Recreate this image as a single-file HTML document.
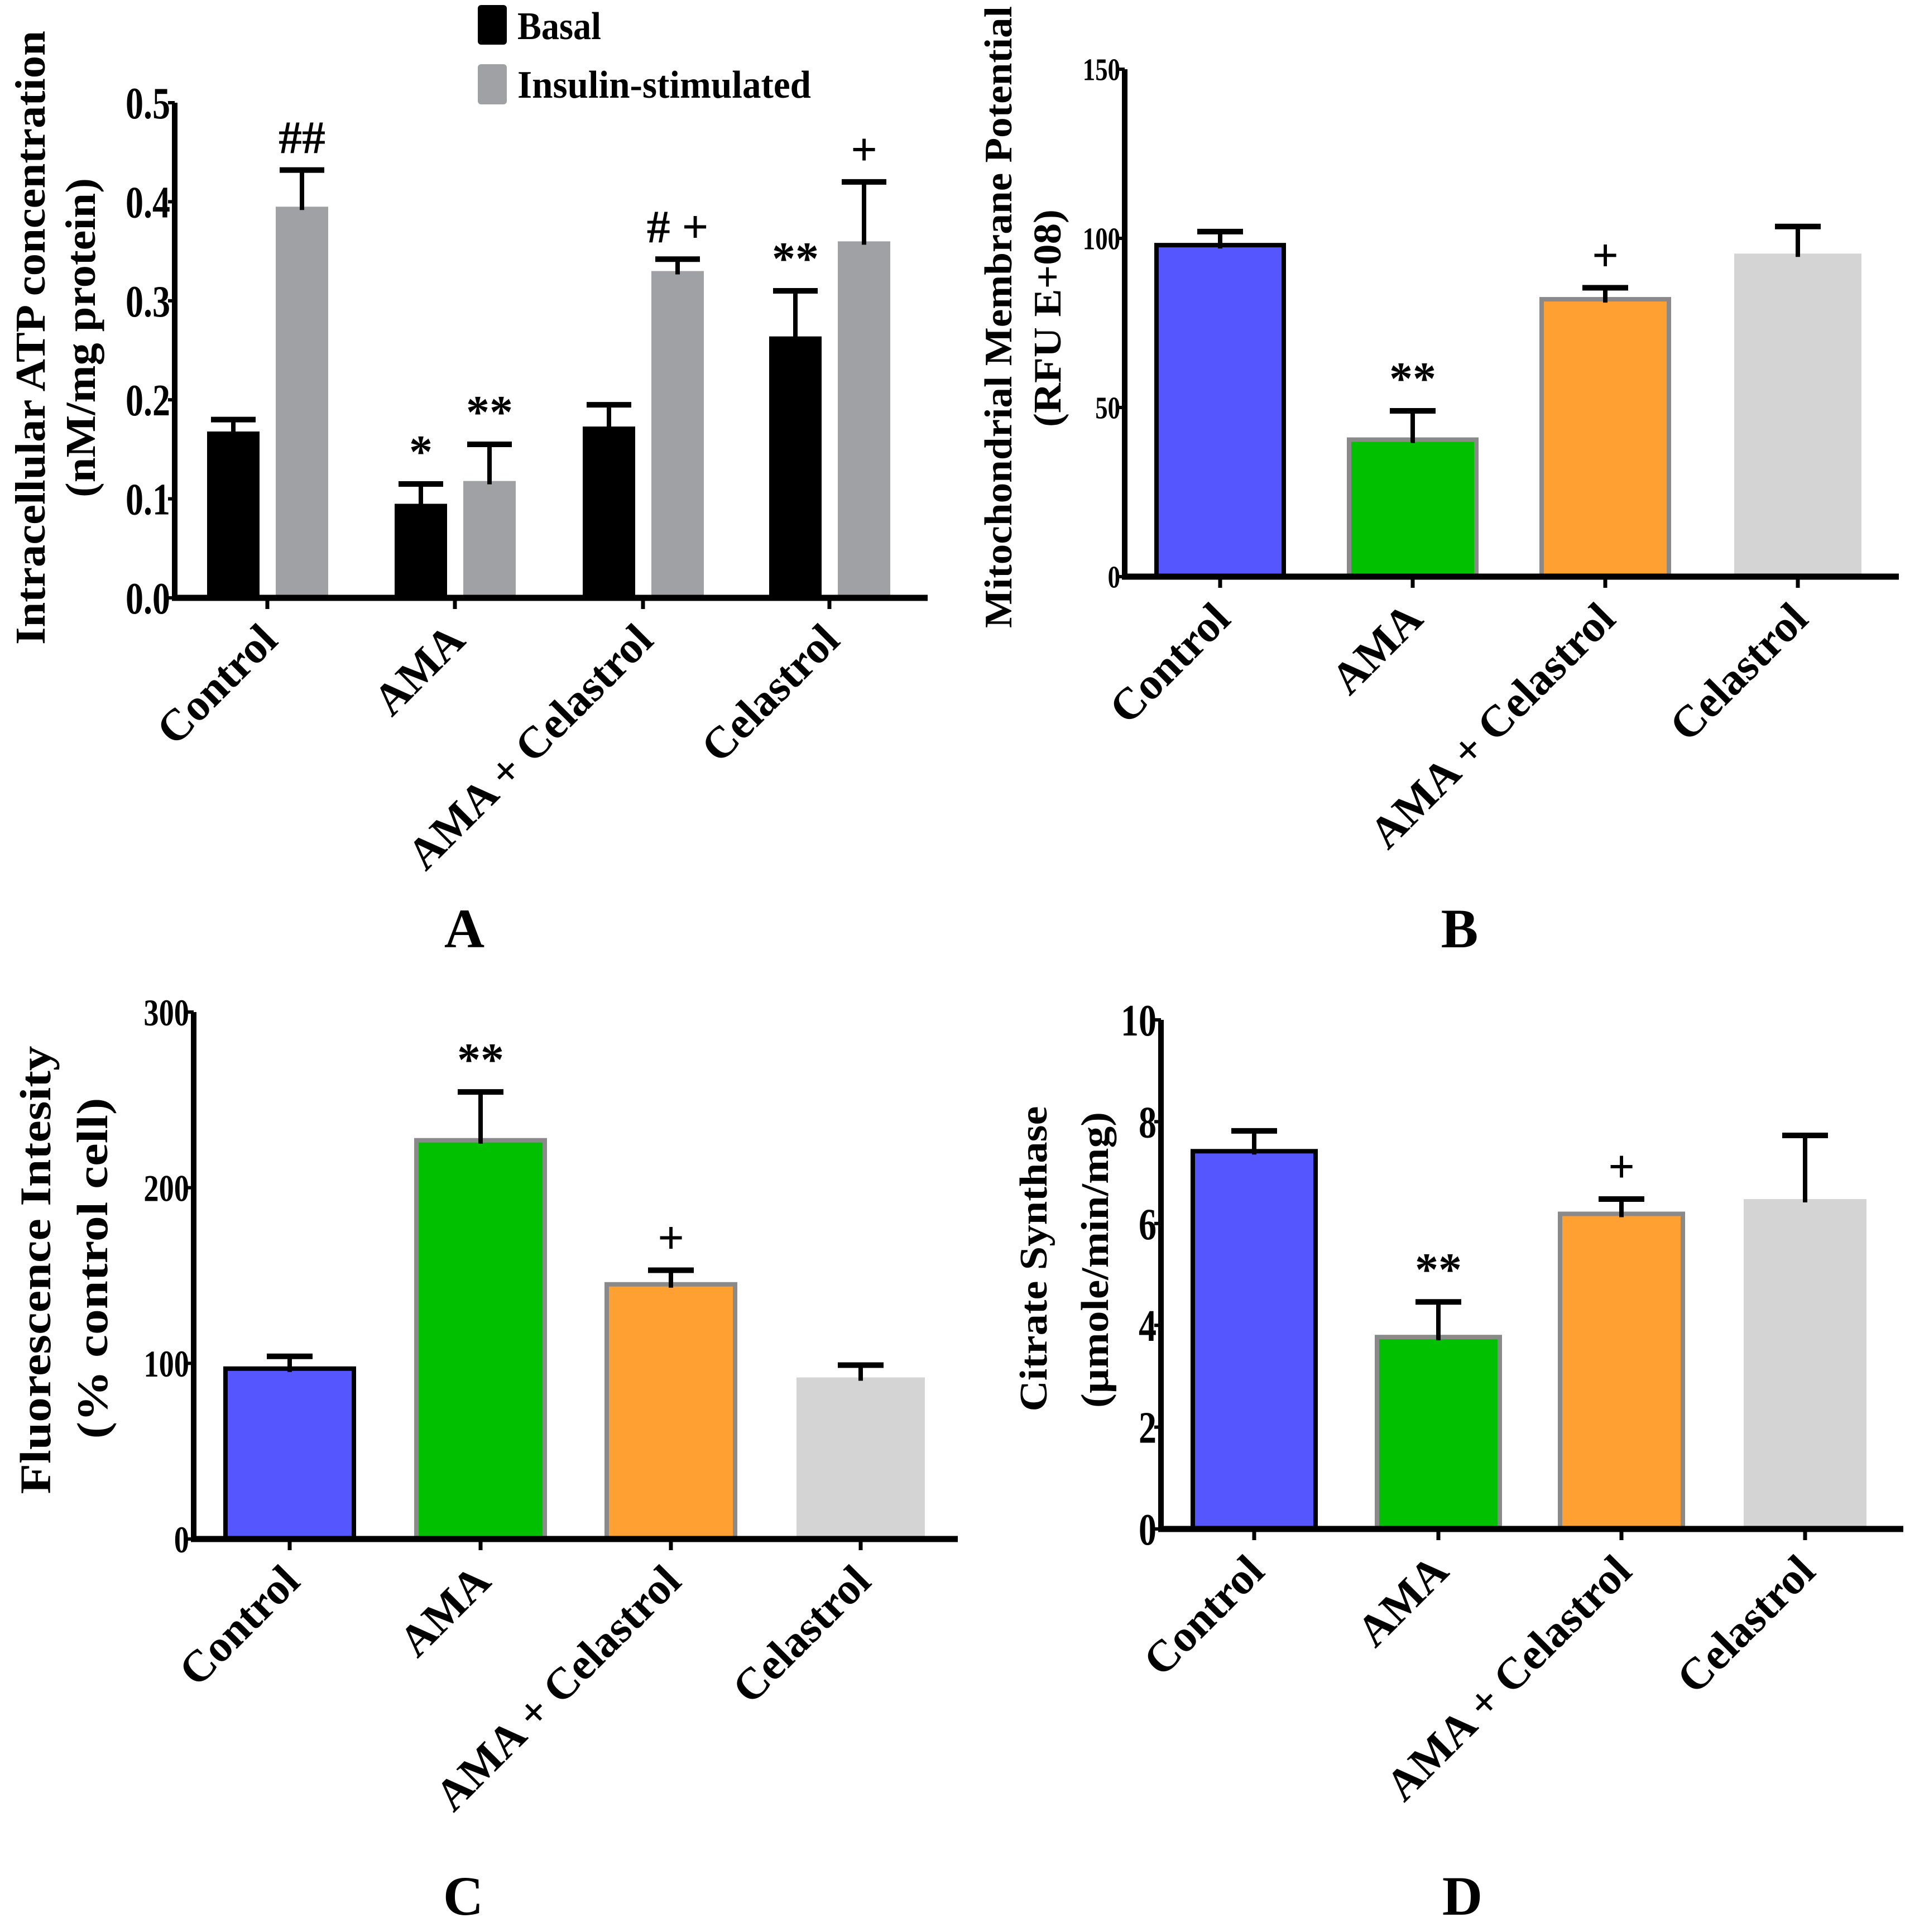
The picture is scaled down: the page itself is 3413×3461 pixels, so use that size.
<!DOCTYPE html>
<html><head><meta charset="utf-8"><style>
html,body{margin:0;padding:0;background:#fff}
svg{display:block;font-family:"Liberation Serif",serif;font-weight:bold}
</style></head><body>
<svg id="fig" width="3413" height="3461" viewBox="0 0 3413 3461" xmlns="http://www.w3.org/2000/svg">
<g>
<rect x="856" y="9" width="52" height="71" rx="6" fill="#000"/>
<text x="927" y="70" font-size="70" textLength="150" lengthAdjust="spacingAndGlyphs">Basal</text>
<rect x="856" y="115" width="52" height="72" rx="6" fill="#a0a1a5"/>
<text x="927" y="175" font-size="70" textLength="526" lengthAdjust="spacingAndGlyphs">Insulin-stimulated</text>
</g>
<text x="832" y="1697" font-size="100" text-anchor="middle">A</text>
<text x="2615" y="1697" font-size="100" text-anchor="middle">B</text>
<text x="830" y="3430" font-size="100" text-anchor="middle">C</text>
<text x="2620" y="3430" font-size="100" text-anchor="middle">D</text>
</svg>
<script>
const categories = ["Control","AMA","AMA + Celastrol","Celastrol"];
// Panel A
const aBasal = [0.168, 0.095, 0.173, 0.264];
const aBasalErr = [0.180, 0.115, 0.195, 0.310];
const aInsulin = [0.395, 0.118, 0.330, 0.360];
const aInsulinErr = [0.432, 0.155, 0.342, 0.420];
const aTicks = ["0.0","0.1","0.2","0.3","0.4","0.5"];
const aBasalMarks = ["", "*", "", "**"];
const aInsulinMarks = ["##", "**", "# +", "+"];
// Panel B
const bValues = [98, 40.5, 82, 95.5];
const bErr = [102, 49, 85.4, 103.5];
const bTicks = ["0","50","100","150"];
const bMarks = ["", "**", "+", ""];
// Panel C
const cValues = [97, 227, 145, 92];
const cErr = [104, 254.5, 153, 99];
const cTicks = ["0","100","200","300"];
const cMarks = ["", "**", "+", ""];
// Panel D
const dValues = [7.42, 3.77, 6.19, 6.48];
const dErr = [7.82, 4.46, 6.48, 7.73];
const dTicks = ["0","2","4","6","8","10"];
const dMarks = ["", "**", "+", ""];

const NS = "http://www.w3.org/2000/svg";
const svg = document.getElementById("fig");
function mk(tag, attrs, parent){
  const e = document.createElementNS(NS, tag);
  for (const k in attrs) e.setAttribute(k, attrs[k]);
  (parent||svg).appendChild(e);
  return e;
}
const fills = ["#5656ff","#00c000","#ffa033","#d4d4d4"];
const strokes = ["#000","#8a8a8a","#8a8a8a","none"];

function axes(g, p, ticks, tickVals){
  const ya = mk("line",{x1:p.ax,y1:p.y(tickVals[tickVals.length-1]),x2:p.ax,y2:p.y0+5,stroke:"#000","stroke-width":10},g);
  
  
  const xa = mk("line",{x1:p.ax-5,y1:p.y0,x2:p.xend,y2:p.y0,stroke:"#000","stroke-width":11},g);
  
  
  ticks.forEach((t,i)=>{
    const yy = p.y(tickVals[i]);
    const tk = mk("line",{x1:p.ax-12,y1:yy,x2:p.ax,y2:yy,stroke:"#000","stroke-width":6},g);
    
    
    const tl = mk("text",{x:p.ax-8,y:yy+p.tfs*0.35,"font-size":p.tfs,"text-anchor":"end",transform:`scale(0.8,1) translate(${(p.ax-8)*(1/0.8-1)},0)`},g);
    tl.textContent = t;
    
    
  });
  p.ticksX.forEach((x,i)=>{
    const tk = mk("line",{x1:x,y1:p.y0,x2:x,y2:p.y0+20,stroke:"#000","stroke-width":7},g);
    
    
    const lx = x+22, ly = p.y0+80;
    const tl = mk("text",{x:lx,y:ly,"font-size":80,"text-anchor":"end",transform:`rotate(-45 ${lx} ${ly})`},g);
    tl.textContent = categories[i];
    
    
  });
}
function bar(g, x0, x1, y, y0, fill, stroke, sw){
  const r = mk("rect",{x:x0,y:y,width:x1-x0,height:y0-y,fill:fill,stroke:stroke,"stroke-width":sw},g);
  
  
  return r;
}
function err(g, xc, ytop, ybar, cap){
  const s = mk("line",{x1:xc,y1:ytop,x2:xc,y2:ybar+6,stroke:"#000","stroke-width":8},g);
  
  
  const c = mk("line",{x1:xc-cap/2,y1:ytop,x2:xc+cap/2,y2:ytop,stroke:"#000","stroke-width":10},g);
  
  
}
function mark(g, xc, ytop, txt, fs){
  if(!txt) return;
  const t = mk("text",{x:xc,y:ytop-30,"font-size":fs||84,"text-anchor":"middle"},g);
  t.textContent = txt;
  
  
}
function ytitle(g, x, cy, txt, fs, len){
  const t = mk("text",{x:x,y:cy,"font-size":fs,"text-anchor":"middle",transform:`rotate(-90 ${x} ${cy})`,textLength:len,lengthAdjust:"spacingAndGlyphs"},g);
  t.textContent = txt;
  
  
}
function numTicks(ticks){ return ticks.map(Number); }

// ---- Panel A
(function(){
  const g = mk("g",{});
  
  
  const y0 = 1071, per = 1774;
  const p = {ax:313, y0:y0, xend:1662, tfs:80, y:v=>y0 - v*per, ticksX:[479,815,1152,1486]};
  const bw = 94;
  p.ticksX.forEach((t,i)=>{
    const bx0 = t-108, ix0 = t+15;
    bar(g, bx0, bx0+bw, p.y(aBasal[i]), y0, "#000", "none", 0);
    err(g, bx0+bw/2, p.y(aBasalErr[i]), p.y(aBasal[i]), 80);
    mark(g, bx0+bw/2, p.y(aBasalErr[i]), aBasalMarks[i]);
    bar(g, ix0, ix0+bw, p.y(aInsulin[i]), y0, "#a0a1a5", "none", 0);
    err(g, ix0+bw/2, p.y(aInsulinErr[i]), p.y(aInsulin[i]), 80);
    mark(g, ix0+bw/2, p.y(aInsulinErr[i]), aInsulinMarks[i]);
  });
  axes(g, p, aTicks, numTicks(aTicks));
  ytitle(g, 80, 605, "Intracellular ATP concentration", 76, 1100);
  ytitle(g, 170, 605, "(nM/mg protein)", 76, 572);
})();
function single(name, cfg, vals, errs, ticks, marks){
  const g = mk("g",{});
  
  
  const tv = numTicks(ticks), tmax = tv[tv.length-1];
  const p = {ax:cfg.ax, y0:cfg.y0, xend:cfg.xend, tfs:cfg.tfs, y:v=>cfg.y0 - v/tmax*(cfg.y0-cfg.ytop), ticksX:cfg.ticksX};
  p.ticksX.forEach((t,i)=>{
    const yb = p.y(vals[i]);
    bar(g, t-cfg.bw/2, t+cfg.bw/2, yb, cfg.y0, fills[i], strokes[i], strokes[i]==="none"?0:8);
    err(g, t, p.y(errs[i]), yb, 82);
    mark(g, t, p.y(errs[i]), marks[i]);
  });
  axes(g, p, ticks, tv);
  cfg.titles.forEach(tt=>ytitle(g, tt[0], tt[1], tt[2], tt[3], tt[4]));
}
single("panel-b-membrane-potential",
  {ax:2015, y0:1033, ytop:124, xend:3402, tfs:56, bw:228, ticksX:[2186,2531,2876,3221],
   titles:[[1812,568,"Mitochondrial Membrane Potential",70,1114],[1900,570,"(RFU E+08)",70,390]]},
  bValues, bErr, bTicks, bMarks);
single("panel-c-fluorescence",
  {ax:347, y0:2757, ytop:1813, xend:1716, tfs:68, bw:230, ticksX:[519,861,1202,1542],
   titles:[[90,2275,"Fluorescence Intesity",78,803],[192,2272,"(% control cell)",78,611]]},
  cValues, cErr, cTicks, cMarks);
single("panel-d-citrate-synthase",
  {ax:2080, y0:2739, ytop:1827, xend:3410, tfs:80, bw:220, ticksX:[2247,2577,2905,3234],
   titles:[[1875,2255,"Citrate Synthase",70,547],[1985,2257,"(µmole/min/mg)",70,530]]},
  dValues, dErr, dTicks, dMarks);
</script>
</body></html>
